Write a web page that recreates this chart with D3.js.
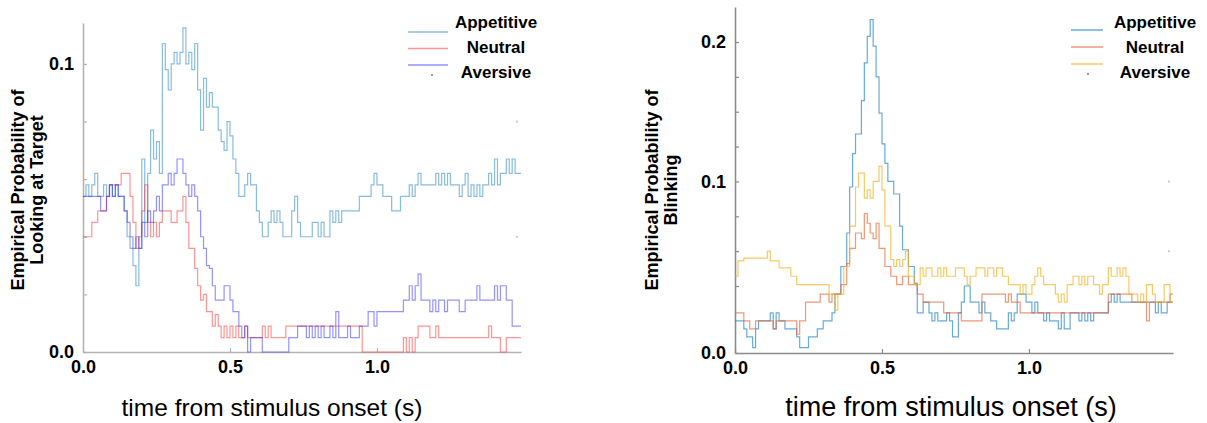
<!DOCTYPE html>
<html>
<head>
<meta charset="utf-8">
<script src="https://cdn.jsdelivr.net/npm/d3@7"></script>
<style>
  body { margin: 0; background: #fff; }
  text { font-family: "Liberation Sans", Arial, Helvetica, sans-serif; }
</style>
</head>
<body>
<svg id="fig" width="1207" height="423"></svg>
<script>
// time grid, one value every 10 ms (0.00 .. 1.49 s)
const times = d3.range(150).map(i => i / 100);

const conditions = ["Appetitive", "Neutral", "Aversive"];

// ---- looking at target ----
const lookAppetitive = [
  .054,.058,.054,.058,.062,.054,.054,.058,.054,.058,
  .054,.058,.054,.054,.049,.040,.036,.030,.023,.036,
  .067,.045,.062,.077,.067,.073,.062,.107,.098,.091,
  .100,.104,.100,.104,.1125,.100,.104,.098,.107,.091,
  .077,.095,.085,.090,.085,.085,.077,.073,.070,.080,
  .075,.067,.062,.054,.054,.058,.062,.058,.058,.049,
  .045,.040,.040,.045,.049,.045,.049,.045,.040,.040,
  .040,.049,.054,.045,.040,
  .040,.040,.040,.045,.045,.040,.045,.040,.040,.049,
  .045,.049,.045,.049,.049,.049,.049,.049,.049,.054,
  .054,.054,.054,.058,.062,.058,.058,.054,.054,.054,
  .049,.049,.049,.054,.054,.054,.058,.054,.058,.062,
  .058,.058,.058,.058,.058,.062,.058,.062,.058,.062,
  .058,.058,.058,.054,.058,.062,.054,.058,.054,.058,
  .054,.058,.058,.062,.058,.067,.058,.062,.062,.067,
  .062,.067,.062,.062,.062
];
const lookNeutral = [
  .040,.040,.040,.045,.045,.049,.049,.049,.054,.058,
  .058,.058,.058,.062,.062,.062,.054,.045,.036,.040,
  .049,.058,.045,.040,.045,.040,.045,.049,.049,.049,
  .045,.045,.049,.049,.054,.045,.036,.036,.029,.023,
  .018,.020,.014,.014,.009,.013,.009,.005,.009,.005,
  .009,.005,.009,.005,.005,.009,.005,.005,.005,.005,
  .005,.009,.005,.009,.005,.005,.005,.005,.005,.009,
  .009,.009,.009,.009,.009,
  .009,.009,.009,.009,.009,.009,.009,.009,.009,.009,
  .009,.009,.009,.009,.009,.009,.009,.009,.009,.009,
  0,0,0,0,0,0,0,0,0,0,
  0,0,0,0,.005,0,.005,0,.005,.009,
  .009,.009,.009,.005,.005,.009,.005,.005,.005,.005,
  .005,.005,.005,.005,.005,.005,.005,.005,.005,.005,
  .005,.005,.005,.009,.005,.005,.005,0,0,.005,
  .005,.005,.005,.005,.005
];
const lookAversive = [
  .054,.054,.054,.054,.054,.054,.049,.049,.054,.058,
  .054,.058,.054,.054,.049,.045,.040,.036,.040,.036,
  .045,.040,.049,.045,.049,.054,.049,.058,.058,.062,
  .058,.062,.067,.067,.062,.058,.054,.058,.054,.049,
  .040,.036,.030,.029,.023,.018,.018,.018,.023,.023,
  .018,.014,.014,.009,.005,.009,0,.005,.005,.005,
  .005,0,0,0,0,0,0,0,0,0,
  .005,.005,.005,.009,.009,
  .009,.005,.009,.005,.009,.005,.009,.005,.005,.009,
  .005,.014,.005,.005,.005,.009,.005,.005,.005,.009,
  .009,.009,.014,.014,.009,.014,.014,.014,.014,.014,
  .014,.014,.014,.014,.018,.018,.023,.018,.023,.027,
  .018,.018,.018,.014,.018,.014,.018,.018,.014,.018,
  .018,.018,.018,.014,.014,.018,.018,.018,.018,.023,
  .018,.018,.018,.018,.018,.023,.018,.023,.023,.018,
  .018,.009,.009,.009,.009
];

// ---- blinking ----
const blinkAppetitive = [
  .012,.012,.012,.009,.006,.006,.002,.009,.012,.012,
  .012,.012,.015,.009,.015,.012,.012,.009,.009,.009,
  .009,.006,.002,.002,.002,.006,.006,.006,.009,.009,
  .012,.012,.012,.015,.022,.022,.039,.039,.063,.096,
  .120,.134,.134,.158,.185,.204,.216,.197,.175,.149,
  .127,.113,.100,.100,.091,.091,.068,.051,.051,.039,
  .039,.027,.015,.015,.019,.019,.015,.012,.015,.012,
  .012,.012,.015,.012,.006,
  .006,.015,.019,.025,.025,.019,.019,.019,.015,.019,
  .015,.015,.012,.012,.009,.009,.009,.009,.015,.012,
  .015,.022,.022,.022,.019,.019,.015,.019,.015,.015,
  .012,.015,.012,.012,.012,.009,.015,.009,.009,.015,
  .015,.015,.012,.015,.012,.015,.012,.015,.015,.015,
  .015,.015,.019,.022,.019,.022,.019,.019,.019,.019,
  .019,.019,.019,.019,.019,.019,.019,.019,.015,.019,
  .015,.015,.019,.019,.019
];
const blinkNeutral = [
  .015,.015,.015,.012,.012,.009,.009,.012,.012,.012,
  .012,.012,.012,.009,.012,.012,.012,.012,.012,.012,
  .012,.007,.012,.012,.019,.019,.019,.019,.019,.022,
  .022,.022,.019,.022,.022,.022,.026,.026,.041,.052,
  .052,.063,.063,.059,.077,.070,.063,.059,.070,.052,
  .052,.039,.039,.032,.032,.026,.026,.032,.032,.026,
  .026,.026,.022,.022,.019,.019,.019,.019,.019,.019,
  .019,.015,.015,.015,.015,
  .015,.015,.012,.012,.012,.012,.012,.012,.012,.022,
  .022,.022,.022,.022,.022,.022,.022,.019,.022,.019,
  .019,.019,.015,.015,.015,.015,.015,.015,.015,.015,
  .015,.015,.015,.015,.015,.015,.015,.015,.015,.015,
  .015,.015,.015,.015,.015,.015,.015,.015,.015,.015,
  .015,.015,.022,.022,.022,.022,.022,.022,.022,.022,
  .019,.019,.019,.019,.019,.012,.019,.019,.019,.019,
  .019,.019,.019,.022,.022
];
const blinkAversive = [
  .032,.043,.043,.045,.045,.045,.045,.045,.045,.045,
  .045,.050,.043,.043,.043,.038,.038,.038,.038,.032,
  .032,.026,.026,.026,.026,.026,.026,.026,.026,.026,
  .026,.026,.022,.022,.016,.022,.022,.039,.039,.068,
  .068,.096,.106,.106,.088,.094,.088,.100,.100,.111,
  .094,.068,.068,.044,.039,.044,.039,.044,.050,.032,
  .032,.026,.026,.038,.032,.038,.038,.032,.032,.038,
  .032,.038,.032,.032,.032,
  .038,.038,.038,.032,.026,.032,.032,.038,.038,.038,
  .032,.038,.038,.032,.038,.038,.032,.032,.026,.026,
  .026,.026,.022,.026,.022,.022,.026,.032,.038,.032,
  .026,.026,.026,.026,.022,.019,.022,.019,.026,.026,
  .032,.032,.026,.032,.026,.032,.032,.026,.026,.022,
  .026,.026,.038,.032,.032,.038,.032,.038,.032,.022,
  .022,.022,.019,.022,.019,.026,.026,.022,.019,.019,
  .019,.026,.026,.019,.019
];

const xTicks = [0, 0.5, 1.0];
const lookTicks = [0, 0.02, 0.04, 0.06, 0.08, 0.1];
const lookLabels = [0, 0.1];
const blinkTicks = [0, 0.025, 0.05, 0.075, 0.1, 0.125, 0.15, 0.175, 0.2];
const blinkLabels = [0, 0.1, 0.2];

const svg = d3.select("#fig");

function drawPanel(p) {
    const g = svg.append("g");
    const x = d3.scaleLinear().domain([0, 1.49]).range(p.xRange);
    const y = d3.scaleLinear().domain(p.yDomain).range(p.yRange);

    // axes (ticks point inwards)
    const xAxis = g.append("g")
        .attr("transform", `translate(0,${y(0)})`)
        .call(d3.axisBottom(x).tickValues(xTicks).tickSize(-4).tickSizeOuter(0)
            .tickPadding(8).tickFormat(d3.format(".1f")));
    const yAxis = g.append("g")
        .attr("transform", `translate(${p.xRange[0]},0)`)
        .call(d3.axisLeft(y).tickValues(p.yTicks).tickSize(-4).tickSizeOuter(0)
            .tickPadding(9)
            .tickFormat(d => p.yLabels.some(v => Math.abs(v - d) < 1e-9) ? d3.format(".1f")(d) : ""));
    [xAxis, yAxis].forEach(a => {
        a.select(".domain").attr("stroke", p.axisColor).attr("stroke-width", 1.6);
        a.selectAll(".tick line").attr("stroke", p.axisColor).attr("stroke-width", 1.2);
        a.selectAll(".tick text")
            .attr("fill", "#000")
            .style("font-size", "18px")
            .style("font-weight", "bold");
    });

    // faint ghost marks on the right edge
    g.selectAll(".ghost")
        .data(p.ghost)
        .enter().append("rect")
            .attr("x", x(1.49) - 5).attr("y", d => y(d) - 1)
            .attr("width", 2).attr("height", 2)
            .attr("fill", "#ccc");

    // step curves
    const line = d3.line()
        .x((d, i) => x(times[i]))
        .y(d => y(d))
        .curve(d3.curveStepAfter);
    p.series.forEach((s, i) => {
        g.append("path")
            .datum(s)
            .attr("fill", "none")
            .attr("stroke", p.colors[i])
            .attr("stroke-opacity", p.opacity[i])
            .attr("stroke-width", 1.2)
            .attr("d", line);
    });

    // legend
    const lg = g.append("g");
    conditions.forEach((c, i) => {
        lg.append("line")
            .attr("x1", p.legendX).attr("x2", p.legendX + p.legendW)
            .attr("y1", p.legendLineY[i]).attr("y2", p.legendLineY[i])
            .attr("stroke", p.colors[i])
            .attr("stroke-opacity", p.opacity[i])
            .attr("stroke-width", 1.5);
        lg.append("text")
            .attr("x", p.legendTextX).attr("y", p.legendTextY[i])
            .attr("dy", "0.35em")
            .attr("text-anchor", "middle")
            .style("font-size", "17px")
            .style("font-weight", "bold")
            .text(c);
    });
    lg.append("rect")
        .attr("x", p.legendDot[0]).attr("y", p.legendDot[1])
        .attr("width", 2).attr("height", 2).attr("fill", "#999");

    // axis titles
    const yt = g.append("text")
        .attr("transform", `translate(${p.yTitleX},${p.yTitleY}) rotate(-90)`)
        .attr("text-anchor", "middle")
        .style("font-size", "18px")
        .style("font-weight", "bold");
    p.yTitle.forEach((t, i) => {
        yt.append("tspan")
            .attr("x", 0)
            .attr("dy", i === 0 ? "0.35em" : "1.05em")
            .text(t);
    });
    g.append("text")
        .attr("x", p.xTitleX).attr("y", 416)
        .attr("text-anchor", "middle")
        .style("font-size", p.xTitleSize)
        .text("time from stimulus onset (s)");
}

drawPanel({
    xRange: [83, 521],
    yDomain: [0, 0.1142],
    yRange: [352, 23],
    yTicks: lookTicks,
    yLabels: lookLabels,
    axisColor: "#b3b3b3",
    ghost: [0.08, 0.04],
    series: [lookAppetitive, lookNeutral, lookAversive],
    colors: ["#3a8fc8", "#ff2a2a", "#2a2aff"],
    opacity: [0.6, 0.5, 0.5],
    legendX: 408, legendW: 40,
    legendLineY: [32, 48.5, 65],
    legendTextX: 496,
    legendTextY: [22, 47, 72],
    legendDot: [431, 74],
    yTitle: ["Empirical Probability of", "Looking at Target"],
    yTitleX: 18, yTitleY: 190,
    xTitleX: 272, xTitleSize: "24.5px"
});

drawPanel({
    xRange: [735, 1173],
    yDomain: [0, 0.025, 0.2, 0.2251],
    yRange: [353, 286, 42, 7],
    yTicks: blinkTicks,
    yLabels: blinkLabels,
    axisColor: "#8c8c8c",
    ghost: [0.1, 0.05],
    series: [blinkAppetitive, blinkNeutral, blinkAversive],
    colors: ["#2886cc", "#e8602e", "#f0ad14"],
    opacity: [0.7, 0.65, 0.65],
    legendX: 1071, legendW: 32,
    legendLineY: [30, 47, 64],
    legendTextX: 1155,
    legendTextY: [22, 47, 72],
    legendDot: [1087, 73],
    yTitle: ["Empirical Probability of", "Blinking"],
    yTitleX: 652, yTitleY: 190,
    xTitleX: 951, xTitleSize: "27px"
});
</script>
</body>
</html>
